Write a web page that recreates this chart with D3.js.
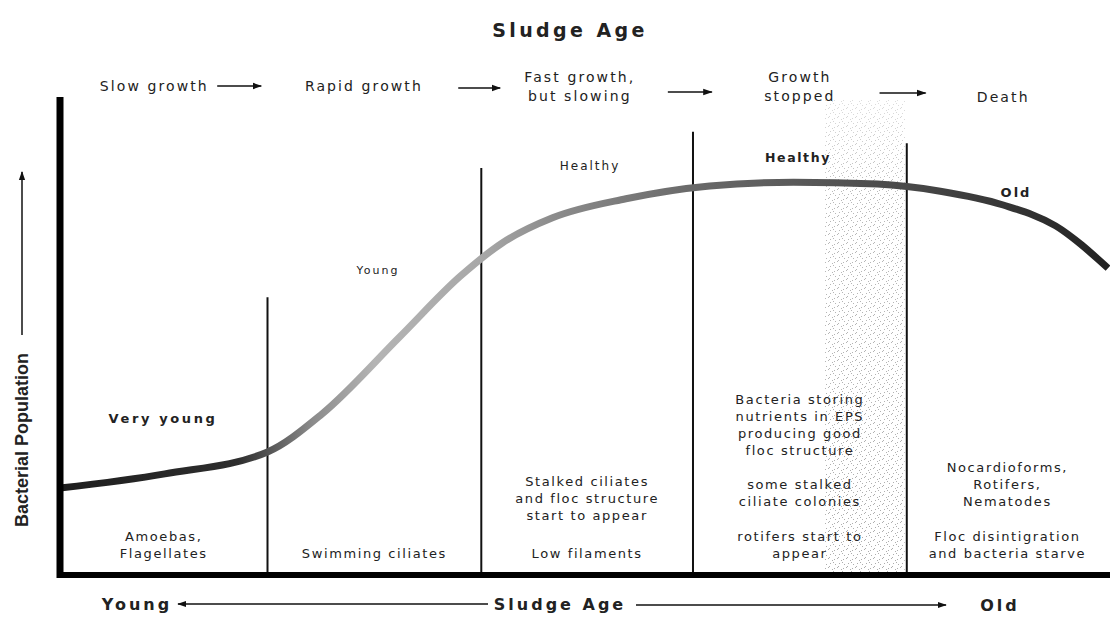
<!DOCTYPE html>
<html>
<head>
<meta charset="utf-8">
<script src="https://cdn.jsdelivr.net/npm/d3@7"></script>
<style>
  html, body { margin: 0; padding: 0; background: #fff; }
  svg { display: block; }
  text { font-family: "DejaVu Sans", sans-serif; fill: #222; }
</style>
</head>
<body>
<div id="chart"></div>
<script>
// sludge age (0..5) vs bacterial population (0..100)
const ageX       = [0, 0.5, 0.99, 1.25, 1.62, 1.91, 2.11, 2.35, 2.70, 3.10, 3.50, 3.90, 4.20, 4.50, 4.75, 5.0];
const population = [18.3, 21.3, 25.9, 33.9, 50.1, 62.9, 69.9, 75.2, 79.2, 81.9, 82.7, 82.3, 80.8, 77.9, 73.5, 64.6];

// stage dividers (age) and how high each line reaches (population)
const dividerAge = [0.99, 2.01, 3.02, 4.04];
const dividerTop = [58.5, 85.7, 93.3, 90.9];

// growth phases along the top
const phaseNames = [["Slow growth"], ["Rapid growth"], ["Fast growth,", "but slowing"], ["Growth", "stopped"], ["Death"]];
const phaseAge   = [0.45, 1.45, 2.48, 3.53, 4.5];
const phaseArrows = [[0.75, 0.96], [1.9, 2.1], [2.9, 3.11], [3.91, 4.13]];

// organisms per stage
const upperNotes = [[], [], ["Stalked ciliates", "and floc structure", "start to appear"],
  ["Bacteria storing", "nutrients in EPS", "producing good", "floc structure", "", "some stalked", "ciliate colonies"],
  ["Nocardioforms,", "Rotifers,", "Nematodes"]];
const upperStartY = [0, 0, 481, 399, 467];
const lowerNotes = [["Amoebas,", "Flagellates"], ["Swimming ciliates"], ["Low filaments"],
  ["rotifers start to", "appear"], ["Floc disintigration", "and bacteria starve"]];

// the shaded band
const bandAge = [3.65, 4.03];

const W = 1110, H = 623;
const svg = d3.select("#chart").append("svg").attr("width", W).attr("height", H);
const x = d3.scaleLinear().domain([0, 5]).range([60, 1108]);
const y = d3.scaleLinear().domain([0, 100]).range([575, 100]);

const defs = svg.append("defs");
// stipple for the band
const pat = defs.append("pattern").attr("id", "stip").attr("patternUnits", "userSpaceOnUse")
  .attr("width", 9).attr("height", 9);
[[0, 0], [4, 2], [7, 6], [2, 5], [6, 1], [1, 8], [5, 4]].forEach(p =>
  pat.append("rect").attr("x", p[0]).attr("y", p[1]).attr("width", 1).attr("height", 1).attr("fill", "#8a8a8a"));
const fade = defs.append("linearGradient").attr("id", "fade").attr("x1", 0).attr("x2", 0).attr("y1", 0).attr("y2", 1);
fade.append("stop").attr("offset", 0).attr("stop-color", "#fff").attr("stop-opacity", 0.6);
fade.append("stop").attr("offset", 0.2).attr("stop-color", "#fff").attr("stop-opacity", 0.15);
fade.append("stop").attr("offset", 1).attr("stop-color", "#fff").attr("stop-opacity", 0);

const grad = defs.append("linearGradient").attr("id", "curveGrad")
  .attr("gradientUnits", "userSpaceOnUse").attr("x1", x(0)).attr("x2", x(5)).attr("y1", 0).attr("y2", 0);
[[0, "#1e1e1e"], [0.17, "#2e2e2e"], [0.24, "#8a8a8a"], [0.3, "#b4b4b4"], [0.4, "#a8a8a8"],
 [0.47, "#8c8c8c"], [0.6, "#6a6a6a"], [0.8, "#4a4a4a"], [1, "#222"]].forEach(s =>
  grad.append("stop").attr("offset", s[0]).attr("stop-color", s[1]));

// band
const bx = x(bandAge[0]), bw = x(bandAge[1]) - x(bandAge[0]);
svg.append("rect").attr("x", bx).attr("width", bw).attr("y", 100).attr("height", 475)
  .attr("fill", "url(#stip)").attr("opacity", 0.7);
svg.append("rect").attr("x", bx).attr("width", bw).attr("y", 100).attr("height", 475)
  .attr("fill", "url(#fade)");

// title
svg.append("text").attr("x", 570).attr("y", 37).attr("text-anchor", "middle")
  .style("font-weight", "bold").style("font-size", "19px").style("letter-spacing", "3.4px")
  .text("Sludge Age");

// phases
phaseNames.forEach((lines, i) => {
  const t = svg.append("text").attr("text-anchor", "middle")
    .style("font-size", "14px").style("letter-spacing", "2.1px").attr("fill", "#2a2a2a");
  const y0 = lines.length === 1 ? (i === 4 ? 102 : 91) : 82;
  lines.forEach((l, k) => t.append("tspan").attr("x", x(phaseAge[i])).attr("y", y0 + k * 19).text(l));
});
const arrowY = [86, 88, 92, 93];
defs.append("marker").attr("id", "head").attr("viewBox", "0 0 10 10").attr("refX", 9).attr("refY", 5)
  .attr("markerWidth", 6).attr("markerHeight", 6).attr("orient", "auto-start-reverse")
  .append("path").attr("d", "M0,1.5L10,5L0,8.5Z").attr("fill", "#111");
phaseArrows.forEach((a, i) => {
  svg.append("line").attr("x1", x(a[0])).attr("x2", x(a[1])).attr("y1", arrowY[i]).attr("y2", arrowY[i])
    .attr("stroke", "#111").attr("stroke-width", 1.6).attr("marker-end", "url(#head)");
});

// dividers
svg.selectAll("line.div").data(dividerAge).join("line").attr("class", "div")
  .attr("x1", d => x(d)).attr("x2", d => x(d))
  .attr("y1", (d, i) => y(dividerTop[i])).attr("y2", y(0))
  .attr("stroke", "#111").attr("stroke-width", 2);

// curve
const line = d3.line().x(d => x(d[0])).y(d => y(d[1])).curve(d3.curveMonotoneX);
svg.append("path").datum(ageX.map((a, i) => [a, population[i]]))
  .attr("d", line).attr("fill", "none").attr("stroke", "url(#curveGrad)")
  .attr("stroke-width", 7).attr("stroke-linecap", "butt");

// axes
svg.append("line").attr("x1", 60).attr("x2", 60).attr("y1", 97).attr("y2", y(0) + 3)
  .attr("stroke", "#000").attr("stroke-width", 7);
svg.append("line").attr("x1", 57).attr("x2", W).attr("y1", y(0)).attr("y2", y(0))
  .attr("stroke", "#000").attr("stroke-width", 6);

// curve labels
svg.append("text").attr("x", 378).attr("y", 274).attr("text-anchor", "middle")
  .style("font-size", "11px").style("letter-spacing", "2px").attr("fill", "#ececec").text("Young");
svg.append("text").attr("x", 590).attr("y", 170).attr("text-anchor", "middle")
  .style("font-size", "12px").style("letter-spacing", "2px").attr("fill", "#9a9a9a").text("Healthy");
svg.append("text").attr("x", 798).attr("y", 162).attr("text-anchor", "middle")
  .style("font-size", "12.5px").style("font-weight", "bold").style("letter-spacing", "1.6px").attr("fill", "#3a3a3a").text("Healthy");
svg.append("text").attr("x", 1016).attr("y", 197).attr("text-anchor", "middle")
  .style("font-size", "13px").style("font-weight", "bold").style("letter-spacing", "2px").text("Old");
svg.append("text").attr("x", 163).attr("y", 423).attr("text-anchor", "middle")
  .style("font-size", "13px").style("font-weight", "bold").style("letter-spacing", "2.6px").text("Very young");

// notes per stage
const bounds = [0].concat(dividerAge, [5]);
const colX = i => x((bounds[i] + bounds[i + 1]) / 2);
upperNotes.forEach((lines, i) => {
  if (!lines.length) return;
  const t = svg.append("text").attr("text-anchor", "middle")
    .style("font-size", "13px").style("letter-spacing", "1.6px").attr("fill", "#2a2a2a");
  lines.forEach((l, k) => t.append("tspan").attr("x", colX(i)).attr("y", upperStartY[i] + 5 + k * 17).text(l));
});
lowerNotes.forEach((lines, i) => {
  const t = svg.append("text").attr("text-anchor", "middle")
    .style("font-size", "13px").style("letter-spacing", "1.6px").attr("fill", "#2a2a2a");
  const start = 553 - 17 * (lines.length - 1);
  lines.forEach((l, k) => t.append("tspan").attr("x", colX(i)).attr("y", start + 5 + k * 17).text(l));
});

// bottom axis title row
const bold16 = s => s.style("font-weight", "bold").style("font-size", "16px").style("letter-spacing", "3px");
svg.append("text").attr("x", 137).attr("y", 610).attr("text-anchor", "middle").call(bold16).text("Young");
svg.append("text").attr("x", 560).attr("y", 610).attr("text-anchor", "middle").call(bold16).text("Sludge Age");
svg.append("text").attr("x", 1000).attr("y", 611).attr("text-anchor", "middle").call(bold16).text("Old");
svg.append("line").attr("x1", 488).attr("x2", 178).attr("y1", 604).attr("y2", 604)
  .attr("stroke", "#111").attr("stroke-width", 1.5).attr("marker-end", "url(#head)");
svg.append("line").attr("x1", 636).attr("x2", 946).attr("y1", 605).attr("y2", 605)
  .attr("stroke", "#111").attr("stroke-width", 1.5).attr("marker-end", "url(#head)");

// y label
svg.append("text").attr("transform", "translate(28,440) rotate(-90)").attr("text-anchor", "middle")
  .style("font-family", "'Liberation Sans', Arial, sans-serif").style("font-weight", "bold")
  .style("font-size", "18px").attr("fill", "#111").text("Bacterial Population");
svg.append("line").attr("x1", 22).attr("x2", 22).attr("y1", 335).attr("y2", 172)
  .attr("stroke", "#111").attr("stroke-width", 1.5).attr("marker-end", "url(#head)");
</script>
</body>
</html>
